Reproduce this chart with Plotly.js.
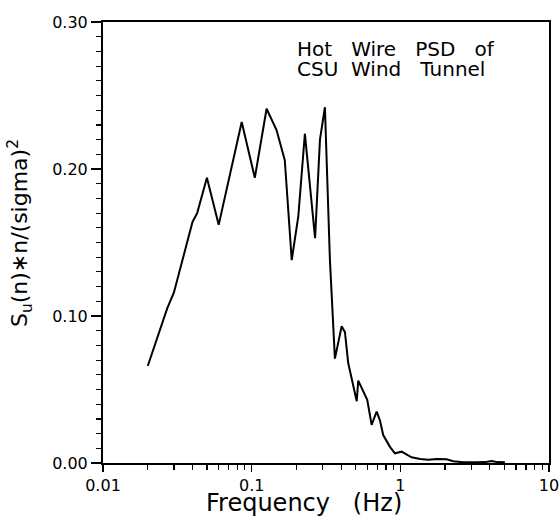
<!DOCTYPE html>
<html>
<head>
<meta charset="utf-8">
<script src="https://cdn.plot.ly/plotly-3.0.1.min.js"></script>
<style>
html,body{margin:0;padding:0;background:#fff;}
#chart{width:560px;height:518px;}
</style>
</head>
<body>
<div id="chart"></div>
<script>
// Frequency (Hz)
const freq = [0.020,0.024,0.027,0.030,0.040,0.043,0.050,0.060,0.0715,0.0857,0.105,0.126,0.147,0.167,0.186,0.206,0.228,0.267,0.288,0.311,0.336,0.363,0.403,0.424,0.446,0.509,0.521,0.563,0.599,0.641,0.693,0.729,0.767,0.851,0.920,1.02,1.10,1.19,1.36,1.55,1.75,2.05,2.27,2.65,3.26,3.7,4.11,4.5,5.05];
// Su(n)*n/(sigma)^2
const psd = [0.066,0.089,0.105,0.116,0.164,0.170,0.194,0.162,0.196,0.232,0.194,0.241,0.2265,0.206,0.138,0.168,0.224,0.153,0.220,0.242,0.138,0.071,0.093,0.089,0.068,0.042,0.056,0.0485,0.043,0.026,0.035,0.029,0.019,0.011,0.0066,0.0077,0.0061,0.0039,0.0027,0.0022,0.0027,0.0025,0.0012,0.0005,0.0005,0.0006,0.0014,0.0006,0.0005];
const xTickVals = [0.01, 0.1, 1, 10];
const xTickText = ["0.01", "0.1", "1", "10"];
const titleLines = ["Hot\u00a0\u00a0\u00a0Wire\u00a0\u00a0\u00a0PSD\u00a0\u00a0\u00a0of", "CSU\u00a0\u00a0Wind\u00a0\u00a0\u00a0Tunnel"];
const xTitle = "Frequency\u00a0\u00a0\u00a0(Hz)";
const yTitle = "S<sub>u</sub>(n)\u2217n/(sigma)<sup>2</sup>";

// minor tick positions on the log axis: 2..9 within each decade
const xMinor = [];
for (let d = 0; d < 3; d++) for (let m = 2; m <= 9; m++) xMinor.push(m * xTickVals[d]);

const FONT = "DejaVu Sans";

const trace = {
  x: freq, y: psd, type: "scatter", mode: "lines",
  line: {color: "#000", width: 2},
  hoverinfo: "skip"
};

const layout = {
  width: 560, height: 518,
  margin: {l: 103, r: 11, t: 22, b: 55},
  paper_bgcolor: "#fff", plot_bgcolor: "#fff",
  showlegend: false,
  font: {family: FONT, color: "#000"},
  xaxis: {
    type: "log", range: [-2, 1],
    tickmode: "array", tickvals: xTickVals, ticktext: xTickText,
    ticks: "outside", ticklen: 7, tickwidth: 1.5, tickcolor: "#000",
    minor: {tickmode: "array", tickvals: xMinor, ticks: "outside", ticklen: 5, tickwidth: 1.2, tickcolor: "#000", showgrid: false},
    showline: true, linecolor: "#000", linewidth: 2, mirror: true,
    showgrid: false, zeroline: false,
    tickfont: {family: FONT, size: 16, color: "#000"},
    automargin: false
  },
  yaxis: {
    range: [0, 0.30], dtick: 0.1, tickformat: ".2f",
    ticks: "outside", ticklen: 10, tickwidth: 1.5, tickcolor: "#000",
    minor: {dtick: 0.01, ticks: "outside", ticklen: 5, tickwidth: 1.2, tickcolor: "#000", showgrid: false},
    showline: true, linecolor: "#000", linewidth: 2, mirror: true,
    showgrid: false, zeroline: false,
    tickfont: {family: FONT, size: 16, color: "#000"},
    automargin: false
  },
  annotations: [
    {xref: "paper", yref: "paper", x: -0.186, y: 0.5215, xanchor: "center", yanchor: "middle",
     textangle: -90, text: yTitle, showarrow: false, font: {family: FONT, size: 22, color: "#000"}},
    {xref: "paper", yref: "paper", x: 0.4507, y: -0.0907, xanchor: "center", yanchor: "middle",
     text: xTitle, showarrow: false, font: {family: FONT, size: 24, color: "#000"}},
    {xref: "paper", yref: "paper", x: 0.4305, y: 0.939, xanchor: "left", yanchor: "middle", height: 20,
     text: titleLines[0], showarrow: false, font: {family: FONT, size: 20, color: "#000"}},
    {xref: "paper", yref: "paper", x: 0.4305, y: 0.893, xanchor: "left", yanchor: "middle", height: 20,
     text: titleLines[1], showarrow: false, font: {family: FONT, size: 20, color: "#000"}}
  ]
};

Plotly.newPlot("chart", [trace], layout, {staticPlot: true, displayModeBar: false});
</script>
</body>
</html>
